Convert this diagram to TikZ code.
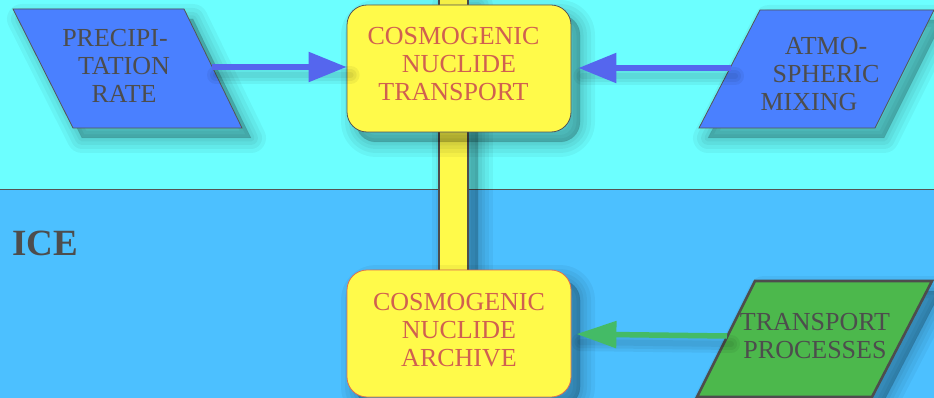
\documentclass[tikz,border=0pt]{standalone}
\usepackage{fontspec}
\setmainfont{Liberation Serif}
\usetikzlibrary{arrows.meta}

\definecolor{airbg}{HTML}{6CFFFF}
\definecolor{icebg}{HTML}{4CC0FF}
\definecolor{inputblue}{HTML}{4A80FF}
\definecolor{boxyellow}{HTML}{FFFA4A}
\definecolor{nuclred}{HTML}{D06050}
\definecolor{ink}{HTML}{4D4D4D}
\definecolor{arrowblue}{HTML}{5566EE}
\definecolor{procgreen}{HTML}{4CB84C}
\definecolor{arrowgreen}{HTML}{44BB66}
\definecolor{edgegray}{HTML}{555555}
\definecolor{archedge}{HTML}{E07050}

\begin{document}
\begin{tikzpicture}[x=1pt,y=-1pt,
  bodyfont/.style={font=\fontsize{26}{28}\selectfont},
  shadelayer/.style={preaction={fill=black,fill opacity=0.045,draw=black,
      draw opacity=0.045,line width=#1,line join=round,
      transform canvas={shift={(9pt,-10pt)}}}},
  soft shadow/.style={shadelayer=30pt,shadelayer=22pt,shadelayer=14pt,
      shadelayer=7pt,shadelayer=1pt},
  lineshade/.style={preaction={-,draw=black,draw opacity=0.05,line width=#1,
      line cap=round,transform canvas={shift={(4pt,-8pt)}}}},
  arrowshadow/.style={lineshade=18pt,lineshade=12pt,lineshade=6pt},
  inputshape/.style={fill=inputblue,draw=edgegray,line width=0.8pt,soft shadow},
  procshape/.style={fill=procgreen,draw=ink,line width=2.6pt,soft shadow},
  inputtext/.style={bodyfont,text=ink,align=center,inner sep=0pt},
  nucbox/.style={bodyfont,text=nuclred,align=center,fill=boxyellow,
      draw=edgegray,line width=0.8pt,rounded corners=20pt,
      minimum width=224pt,minimum height=127pt,soft shadow},
  feedbar/.style={draw=ink,line width=2pt,double=boxyellow,double distance=27pt},
  bluearrow/.style={draw=arrowblue,line width=5.5pt,arrowshadow,
      -{Triangle[length=38pt,width=29pt]}},
  greenarrow/.style={draw=arrowgreen,line width=5.5pt,arrowshadow,
      -{Triangle[length=40pt,width=26pt]}}]

\useasboundingbox (0,0) rectangle (934,398);

% atmosphere and ice bands
\fill[airbg] (0,0) rectangle (934,189);
\fill[icebg] (0,189) rectangle (934,398);
\draw[edgegray,line width=0.8pt] (0,189) -- (934,189);

% vertical flux bar from above, down to the archive box
\coordinate (feed) at (453.5,-4);
\coordinate (feed-end) at (453.5,271);
\path[soft shadow] ([xshift=-15.5pt]feed) rectangle ([xshift=15.5pt]feed-end);
\draw[feedbar] (feed) -- (feed-end);

% input parallelograms
\path[inputshape] (13,9) -- (184,9) -- (242,128) -- (73,128) -- cycle;
\node[inputtext] (prec) at (124,66) {PRECIPI-\hspace*{18pt}\\TATION\\RATE};
\coordinate (prec-out) at (212,67);

\path[inputshape] (760,10) -- (934,10) -- (875,128) -- (699,128) -- cycle;
\node[inputtext] (atm) at (826,74) {ATMO-\\SPHERIC\\MIXING\hspace*{34pt}};
\coordinate (atm-out) at (731,68);

\path[procshape] (755,281) -- (932,281) -- (872,397) -- (697,397) -- cycle;
\node[inputtext] (proc) at (815,336) {TRANSPORT\\PROCESSES};
\coordinate (proc-out) at (727,336);

% nuclide boxes
\node[nucbox] (trans) at (459,68.5)
  {COSMOGENIC\hspace*{11pt}\\NUCLIDE\hspace*{11pt}\\TRANSPORT\hspace*{11pt}\rule[-9pt]{0pt}{9pt}};
\node[nucbox,draw=archedge] (arch) at (459,333.5)
  {COSMOGENIC\\NUCLIDE\\ARCHIVE\rule[-7pt]{0pt}{7pt}};

% connectors
\draw[bluearrow] (prec-out) -- (prec-out -| trans.west);
\draw[bluearrow,shorten >=7pt] (atm-out) -- (atm-out -| trans.east);
\draw[greenarrow,shorten >=5pt] (proc-out) -- (arch.east |- 0,334);

% layer label
\node[font=\fontsize{37}{40}\selectfont\bfseries,text=ink,anchor=base west,
  inner sep=0pt] (icelabel) at (12,255) {ICE};
\end{tikzpicture}
\end{document}
